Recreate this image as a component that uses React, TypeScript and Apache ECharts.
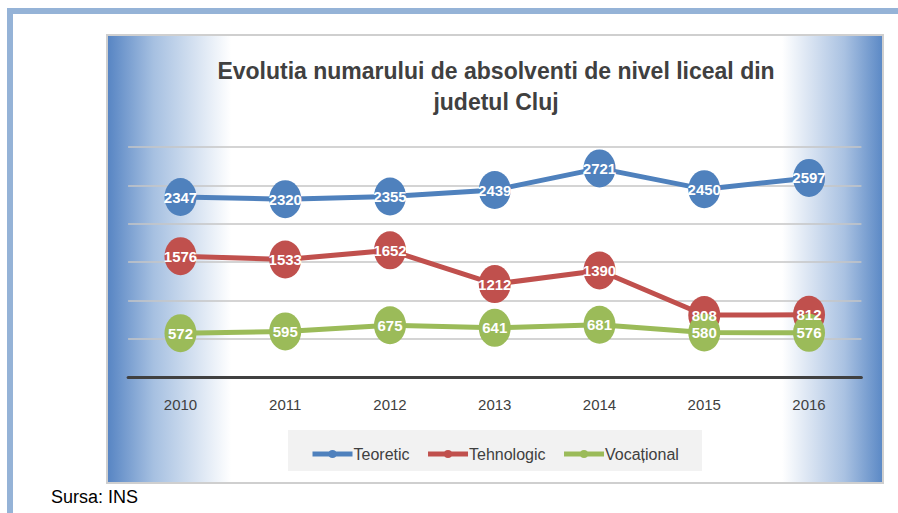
import React, { useEffect, useRef } from "react";
import * as echarts from "echarts";

const years = ["2010", "2011", "2012", "2013", "2014", "2015", "2016"];
const teoretic = [2347, 2320, 2355, 2439, 2721, 2450, 2597];
const tehnologic = [1576, 1533, 1652, 1212, 1390, 808, 812];
const vocational = [572, 595, 675, 641, 681, 580, 576];
const seriesNames = ["Teoretic", "Tehnologic", "Vocațional"];
const colors = ["#4F81BD", "#C0504D", "#9BBB59"];
const titleLines = ["Evolutia numarului de absolventi de nivel liceal din", "judetul Cluj"];
const sourceText = "Sursa: INS";

const ELLIPSE = "path://M0,-1A1,1 0 1,1 0,1A1,1 0 1,1 0,-1Z";
const SANS = "'Liberation Sans', Arial, sans-serif";

export default function App() {
  const ref = useRef<HTMLDivElement>(null);
  useEffect(() => {
    if (!ref.current) return;
    const chart = echarts.init(ref.current, null, { renderer: "svg" });
    const data = [teoretic, tehnologic, vocational];
    const mainSeries = seriesNames.map((name, i) => ({
      name,
      type: "line",
      data: data[i],
      symbol: ELLIPSE,
      symbolSize: [32, 38],
      itemStyle: { color: colors[i] },
      lineStyle: { color: colors[i], width: 5 },
      label: { show: false },
      z: 3 + i,
    }));
    const labelSeries = seriesNames.map((name, i) => ({
      name: name + " (etichete)",
      type: "line",
      data: data[i],
      symbol: ELLIPSE,
      symbolSize: [2, 2],
      silent: true,
      itemStyle: { color: "rgba(0,0,0,0)", borderWidth: 0 },
      lineStyle: { color: "rgba(0,0,0,0)", width: 0 },
      label: {
        show: true,
        position: "inside",
        color: "#ffffff",
        opacity: 1,
        fontSize: 15,
        fontWeight: "bold",
        fontFamily: SANS,
      },
      z: 10,
    }));
    chart.setOption({
      animation: false,
      backgroundColor: "#ffffff",
      graphic: [
        { type: "rect", z: -10, shape: { x: 7, y: 8, width: 891, height: 6 }, style: { fill: "#95B3D7" } },
        { type: "rect", z: -10, shape: { x: 7, y: 8, width: 6, height: 505 }, style: { fill: "#95B3D7" } },
        {
          type: "rect",
          z: -10,
          shape: { x: 107, y: 35, width: 776, height: 448 },
          style: {
            fill: new echarts.graphic.LinearGradient(0, 0, 1, 0, [
              { offset: 0, color: "#5684C3" },
              { offset: 0.06, color: "#A6C0E1" },
              { offset: 0.16, color: "#ffffff" },
              { offset: 0.87, color: "#ffffff" },
              { offset: 0.95, color: "#AAC2E2" },
              { offset: 1, color: "#5A88C5" },
            ]),
            stroke: "#cfcfcf",
            lineWidth: 2,
          },
        },
        { type: "rect", z: -5, shape: { x: 288, y: 430, width: 414, height: 41 }, style: { fill: "#f2f2f2" } },
        {
          type: "text",
          z: 5,
          x: 496,
          y: 55,
          style: {
            text: titleLines.join("\n"),
            fill: "#404040",
            font: "bold 23px " + SANS,
            align: "center",
            lineHeight: 31,
          },
        },
        {
          type: "text",
          z: 5,
          x: 51,
          y: 488,
          style: {
            text: sourceText,
            fill: "#000000",
            font: "18px " + SANS,
          },
        },
      ],
      legend: {
        left: 305,
        top: 441,
        itemWidth: 40,
        itemHeight: 10,
        itemGap: 16,
        data: seriesNames,
        lineStyle: { width: 5 },
        textStyle: { color: "#404040", fontSize: 16, fontFamily: SANS, padding: [0, 0, 0, -4] },
      },
      grid: { left: 128.1, right: 36.6, top: 147, bottom: 136 },
      xAxis: {
        type: "category",
        data: years,
        boundaryGap: true,
        axisLine: { lineStyle: { color: "#404040", width: 3 } },
        axisTick: { show: false },
        axisLabel: { color: "#404040", fontSize: 15, margin: 20, fontFamily: SANS },
      },
      yAxis: {
        type: "value",
        min: 0,
        max: 3000,
        interval: 500,
        axisLabel: { show: false },
        axisLine: { show: false },
        axisTick: { show: false },
        splitLine: { lineStyle: { color: "#c6c6c6", width: 1.5 } },
      },
      series: [...mainSeries, ...labelSeries],
    });
    return () => chart.dispose();
  }, []);
  return <div ref={ref} style={{ position: "fixed", left: 0, top: 0, width: 898, height: 513 }} />;
}
